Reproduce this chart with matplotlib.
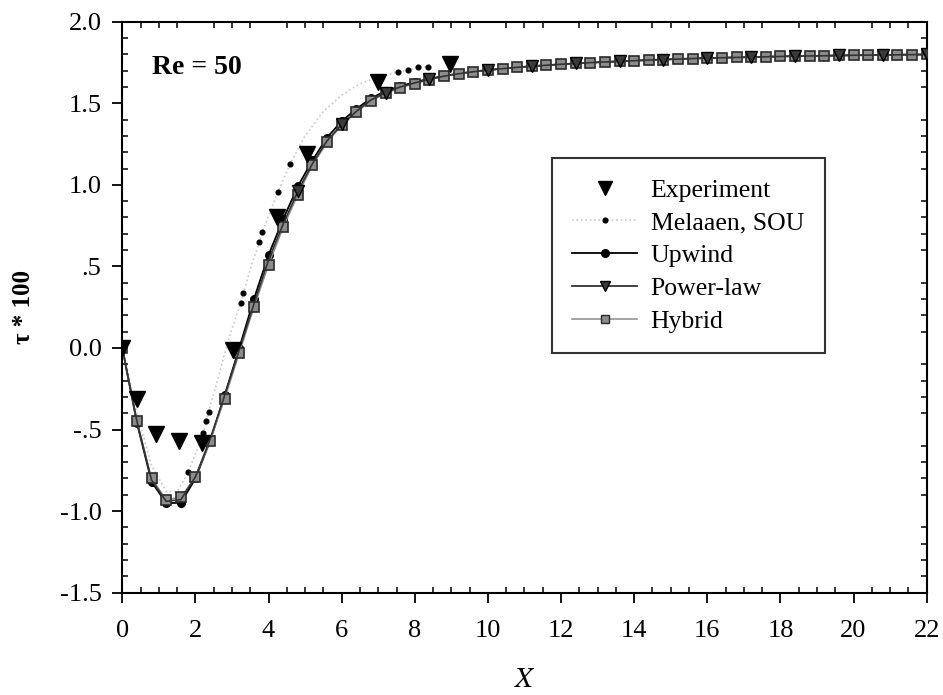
import matplotlib
matplotlib.use("Agg")
import matplotlib.pyplot as plt
from matplotlib.ticker import FixedLocator, MultipleLocator
from matplotlib.lines import Line2D

plt.rcParams['font.family'] = ['Liberation Serif', 'DejaVu Serif']
plt.rcParams['mathtext.fontset'] = 'stix'

# Gitterpunkte der Rechnungen (Schrittweite 0.4)
x_grid = [0.0, 0.4, 0.8, 1.2, 1.6, 2.0, 2.4, 2.8, 3.2, 3.6, 4.0, 4.4, 4.8, 5.2,
          5.6, 6.0, 6.4, 6.8, 7.2, 7.6, 8.0, 8.4, 8.8, 9.2, 9.6, 10.0, 10.4, 10.8,
          11.2, 11.6, 12.0, 12.4, 12.8, 13.2, 13.6, 14.0, 14.4, 14.8, 15.2, 15.6,
          16.0, 16.4, 16.8, 17.2, 17.6, 18.0, 18.4, 18.8, 19.2, 19.6, 20.0, 20.4,
          20.8, 21.2, 21.6, 22.0]

upwind = [0.0, -0.46, -0.82, -0.95, -0.95, -0.80, -0.57, -0.29, 0.0, 0.30, 0.57,
          0.79, 0.99, 1.15, 1.29, 1.39, 1.465, 1.53, 1.575, 1.605, 1.63, 1.65,
          1.668, 1.682, 1.694, 1.704, 1.712, 1.72, 1.727, 1.733, 1.739, 1.744,
          1.749, 1.753, 1.757, 1.761, 1.765, 1.768, 1.771, 1.774, 1.777, 1.779,
          1.781, 1.783, 1.785, 1.787, 1.789, 1.790, 1.791, 1.793, 1.794, 1.795,
          1.796, 1.797, 1.798, 1.799]

power_law = [0.0, -0.45, -0.81, -0.94, -0.93, -0.79, -0.56, -0.29, -0.01, 0.27,
             0.54, 0.76, 0.96, 1.13, 1.27, 1.37, 1.45, 1.52, 1.565, 1.60, 1.625,
             1.647, 1.666, 1.681, 1.693, 1.703, 1.712, 1.72, 1.727, 1.733, 1.739,
             1.744, 1.749, 1.753, 1.757, 1.761, 1.765, 1.768, 1.771, 1.774, 1.777,
             1.779, 1.781, 1.783, 1.785, 1.787, 1.789, 1.790, 1.791, 1.793, 1.794,
             1.795, 1.796, 1.797, 1.798, 1.799]

hybrid = [0.0, -0.45, -0.80, -0.93, -0.915, -0.79, -0.57, -0.31, -0.03, 0.25,
          0.51, 0.74, 0.94, 1.12, 1.26, 1.365, 1.445, 1.515, 1.56, 1.595, 1.62,
          1.645, 1.665, 1.68, 1.693, 1.703, 1.712, 1.72, 1.727, 1.733, 1.739,
          1.744, 1.749, 1.753, 1.757, 1.761, 1.765, 1.768, 1.771, 1.774, 1.777,
          1.779, 1.781, 1.783, 1.785, 1.787, 1.789, 1.790, 1.791, 1.793, 1.794,
          1.795, 1.796, 1.797, 1.798, 1.799]

# Marker der Power-law-Kurve nur an jedem dritten Punkt
power_law_marks = [12, 15, 18, 21, 25, 28, 31, 34, 37, 40, 43, 46, 49, 52, 55]

exp_x = [0.0, 0.4, 0.92, 1.55, 2.19, 3.02, 4.24, 5.06, 7.0, 8.96]
exp_y = [0.0, -0.31, -0.53, -0.57, -0.58, -0.01, 0.80, 1.19, 1.63, 1.74]

mel_x = [0.0, 0.4, 0.8, 1.2, 1.5, 1.81, 2.05, 2.21, 2.30, 2.36, 2.6, 2.9, 3.24,
         3.31, 3.55, 3.75, 3.83, 4.25, 4.59, 5.0, 5.5, 6.0, 6.5, 7.0, 7.55, 7.82,
         8.10, 8.37]
mel_y = [0.0, -0.40, -0.72, -0.88, -0.88, -0.76, -0.62, -0.52, -0.45, -0.39,
         -0.20, 0.05, 0.277, 0.335, 0.52, 0.647, 0.712, 0.954, 1.128, 1.30, 1.45,
         1.55, 1.62, 1.66, 1.693, 1.704, 1.72, 1.724]
mel_marks = [5, 7, 8, 9, 12, 13, 15, 16, 17, 18, 24, 25, 26, 27]

y_ticks = [-1.5, -1.0, -0.5, 0.0, 0.5, 1.0, 1.5, 2.0]
y_tick_labels = ['-1.5', '-1.0', '-.5', '0.0', '.5', '1.0', '1.5', '2.0']
x_ticks = [0, 2, 4, 6, 8, 10, 12, 14, 16, 18, 20, 22]

fig = plt.figure(figsize=(9.43, 6.95), dpi=100)
ax = fig.add_axes([0.1297, 0.1472, 0.853, 0.8216])

# Kurven zeichnen
ax.plot(mel_x, mel_y, linestyle=':', color='#c8c8c8', linewidth=1.2,
        marker='o', markersize=3.4, markerfacecolor='black',
        markeredgecolor='black', markevery=mel_marks, zorder=2)
ax.plot(x_grid, upwind, color='black', linewidth=1.3, marker='o',
        markersize=5.5, markerfacecolor='black', markeredgecolor='black', zorder=3)
ax.plot(x_grid, hybrid, color='#8a8a8a', linewidth=1.1, marker='s',
        markersize=7.2, markerfacecolor='#8c8c8c', markeredgecolor='#2a2a2a',
        markeredgewidth=1.2, zorder=4)
ax.plot(x_grid, power_law, color='#333333', linewidth=1.2, marker='v',
        markersize=8, markerfacecolor='#3a3a3a', markeredgecolor='black',
        markevery=power_law_marks, zorder=5)
ax.plot(exp_x, exp_y, linestyle='none', marker='v', markersize=11.5,
        markerfacecolor='black', markeredgecolor='black', zorder=6)

ax.set_xlim(0, 22)
ax.set_ylim(-1.5, 2.0)
ax.xaxis.set_major_locator(FixedLocator(x_ticks))
ax.xaxis.set_minor_locator(MultipleLocator(0.5))
ax.yaxis.set_major_locator(FixedLocator(y_ticks))
ax.set_yticklabels(y_tick_labels)
ax.yaxis.set_minor_locator(MultipleLocator(0.1))

ax.tick_params(which='major', direction='out', length=7, width=1.3,
               labelsize=19)
ax.tick_params(axis='x', which='major', pad=13)
ax.tick_params(axis='y', which='major', pad=8)
ax.tick_params(which='minor', direction='in', length=4, width=1.1)
ax.tick_params(which='both', top=True, right=True)
ax.tick_params(which='major', top=False, right=False)
for sp in ax.spines.values():
    sp.set_linewidth(1.5)

ax.set_xlabel('$X$', fontsize=21, labelpad=18)
ax.set_ylabel('τ * 100', fontsize=18, fontweight='bold', labelpad=18)

ax.text(0.037, 0.92, 'Re = 50', transform=ax.transAxes, fontsize=20,
        fontweight='bold', va='center', ha='left')

# Legende
handles = [
    Line2D([], [], linestyle='none', marker='v', markersize=10,
           markerfacecolor='black', markeredgecolor='black'),
    Line2D([], [], linestyle=':', color='#c8c8c8', linewidth=1.2, marker='o',
           markersize=3.4, markerfacecolor='black', markeredgecolor='black'),
    Line2D([], [], color='black', linewidth=1.3, marker='o', markersize=5.5,
           markerfacecolor='black'),
    Line2D([], [], color='#333333', linewidth=1.3, marker='v', markersize=7,
           markerfacecolor='#3a3a3a', markeredgecolor='black'),
    Line2D([], [], color='#8a8a8a', linewidth=1.1, marker='s', markersize=6,
           markerfacecolor='#8c8c8c', markeredgecolor='#2a2a2a'),
]
labels = ['Experiment', 'Melaaen, SOU', 'Upwind', 'Power-law', 'Hybrid']
leg = ax.legend(handles, labels, loc='upper left', bbox_to_anchor=(0.534, 0.761),
                borderaxespad=0, fontsize=18.5, frameon=True, fancybox=False,
                edgecolor='black', handlelength=2.5, handletextpad=0.55,
                labelspacing=0.38, borderpad=0.8, numpoints=1)
leg.get_frame().set_linewidth(1.5)

fig.savefig('out.png', dpi=100)
